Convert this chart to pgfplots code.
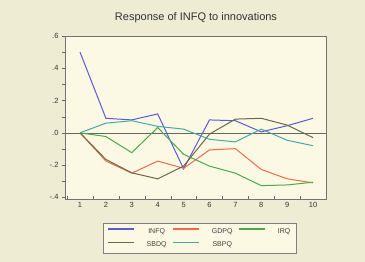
\documentclass[border=0pt]{standalone}
\usepackage{fontspec}
\setmainfont{Liberation Sans}
\usepackage{pgfplots}
\pgfplotsset{compat=1.18}
\definecolor{bgout}{HTML}{EEECD2}
\definecolor{bgin}{HTML}{FBF9E3}
\definecolor{cinfq}{HTML}{5A5AD8}
\definecolor{cgdpq}{HTML}{F0684E}
\definecolor{cirq}{HTML}{4CA84C}
\definecolor{csbdq}{HTML}{6A6A48}
\definecolor{csbpq}{HTML}{48A8A8}
\begin{document}
\begin{tikzpicture}
\fill[bgout] (0,0) rectangle (365pt,262pt);
\node[text=black!80, font=\fontsize{11}{12}\selectfont] at (196pt,244pt) {Response of INFQ to innovations};
\begin{axis}[
  at={(65pt,63pt)}, anchor=south west,
  scale only axis, width=261pt, height=163pt,
  xmin=0.42, xmax=10.5, ymin=-0.41, ymax=0.6,
  axis background/.style={fill=bgin},
  axis line style={black!55},
  xtick={1,...,10},
  minor xtick={0.5,1.5,...,10.5},
  ytick={-0.4,-0.2,0,0.2,0.4,0.6},
  yticklabels={-.4,-.2,.0,.2,.4,.6},
  minor ytick={-0.3,-0.1,0.1,0.3,0.5},
  tick style={black!60},
  xtick style={draw=none},
  minor x tick style={draw=black!60},
  major tick length=3pt, minor tick length=2.5pt,
  ytick align=outside, xtick align=inside,
  xtick pos=bottom, ytick pos=left,
  tick label style={font=\fontsize{7.5}{8}\selectfont, text=black!80},
  /pgf/number format/assume math mode=true,
  legend style={at={(0.146,-0.147)}, anchor=north west, draw=black!50, fill=bgin,
    font=\fontsize{7}{8}\selectfont, legend columns=3,
    /tikz/every even column/.append style={column sep=4pt},
    /tikz/every odd column/.append style={column sep=10pt},
    inner xsep=4pt, inner ysep=3pt, row sep=3pt},
  legend image code/.code={\draw[#1, line width=1.4pt] (0pt,2.5pt) -- (26pt,2.5pt);},
  clip=false,
]
\draw[black!60, line width=0.6pt] (axis cs:0.42,0) -- (axis cs:10.5,0);
\addplot[draw=cinfq, line width=1pt] coordinates {(1,0.50) (2,0.09) (3,0.08) (4,0.117) (5,-0.223) (6,0.08) (7,0.075) (8,0.006) (9,0.044) (10,0.09)};
\addlegendentry{\textcolor{black!75}{INFQ}}
\addplot[draw=cgdpq, line width=1pt] coordinates {(1,0) (2,-0.175) (3,-0.25) (4,-0.175) (5,-0.22) (6,-0.106) (7,-0.098) (8,-0.227) (9,-0.285) (10,-0.31)};
\addlegendentry{\textcolor{black!75}{GDPQ}}
\addplot[draw=cirq, line width=1pt] coordinates {(1,0) (2,-0.023) (3,-0.123) (4,0.033) (5,-0.133) (6,-0.206) (7,-0.25) (8,-0.327) (9,-0.323) (10,-0.306)};
\addlegendentry{\textcolor{black!75}{IRQ}}
\addplot[draw=csbdq, line width=1pt] coordinates {(1,0) (2,-0.165) (3,-0.248) (4,-0.285) (5,-0.206) (6,-0.008) (7,0.085) (8,0.09) (9,0.048) (10,-0.03)};
\addlegendentry{\textcolor{black!75}{SBDQ}}
\addplot[draw=csbpq, line width=1pt] coordinates {(1,0) (2,0.06) (3,0.075) (4,0.04) (5,0.023) (6,-0.04) (7,-0.056) (8,0.023) (9,-0.046) (10,-0.08)};
\addlegendentry{\textcolor{black!75}{SBPQ}}
\end{axis}
\end{tikzpicture}
\end{document}
